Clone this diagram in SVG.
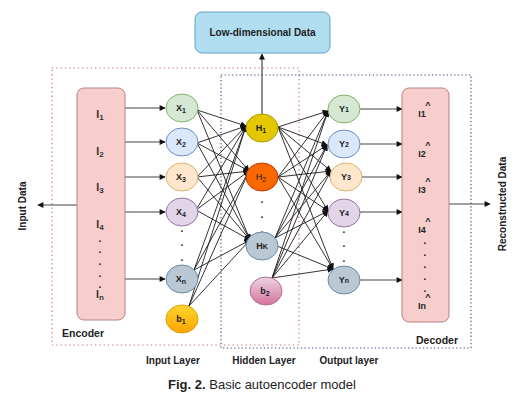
<svg xmlns="http://www.w3.org/2000/svg" width="530" height="409" viewBox="0 0 530 409">
<defs>
<marker id="ah" viewBox="0 0 10 10" refX="9" refY="5" markerWidth="7" markerHeight="6" markerUnits="userSpaceOnUse" orient="auto">
<path d="M0,0 L10,5 L0,10 z" fill="#111"/>
</marker>
<linearGradient id="gb1" x1="0" y1="0" x2="0" y2="1"><stop offset="0" stop-color="#ffd52e"/><stop offset="1" stop-color="#ffa500"/></linearGradient>
<linearGradient id="gb2" x1="0" y1="0" x2="0" y2="1"><stop offset="0" stop-color="#ecd4e4"/><stop offset="1" stop-color="#d5739d"/></linearGradient>
</defs>
<style>
text{font-family:"Liberation Sans",Arial,sans-serif;fill:#222}
.b{font-weight:bold}
.lbl{font-size:9px;font-weight:bold;text-anchor:middle}
.il{font-size:10.5px;font-weight:bold;text-anchor:middle;fill:#333}
.sub{font-size:7px}
.isub{font-size:8px}
.e{stroke:#1c1c1c;stroke-width:0.9;fill:none;marker-end:url(#ah)}
.io{stroke:#444;stroke-width:1.2;fill:none;marker-end:url(#ah)}
.nd{stroke-width:1}
.dot{font-size:10px;text-anchor:middle;font-weight:bold}
</style>
<rect width="530" height="409" fill="#fff"/>

<g id="encoder-frame"><rect x="52" y="68" width="247" height="277" fill="none" stroke="#c9707a" stroke-width="1.2" stroke-dasharray="1.3 3"/></g>
<g id="decoder-frame"><rect x="221" y="75" width="250" height="273" fill="none" stroke="#3d4a80" stroke-width="1.1" stroke-dasharray="1.3 2.4"/></g>

<g id="connectors">
<line class="io" x1="262" y1="114" x2="262" y2="54"/>
<line class="io" x1="77" y1="205" x2="38" y2="205"/>
<line class="io" x1="449" y1="204" x2="490" y2="204"/>
<line class="io" x1="125" y1="108" x2="165" y2="108"/>
<line class="io" x1="125" y1="142" x2="165" y2="142"/>
<line class="io" x1="125" y1="177" x2="165" y2="177"/>
<line class="io" x1="125" y1="212" x2="165" y2="212"/>
<line class="io" x1="125" y1="279" x2="165" y2="279"/>
<line class="io" x1="360" y1="109" x2="402" y2="109"/>
<line class="io" x1="360" y1="144" x2="402" y2="144"/>
<line class="io" x1="362" y1="177" x2="402" y2="177"/>
<line class="io" x1="360" y1="212" x2="402" y2="212"/>
<line class="io" x1="360" y1="280" x2="402" y2="280"/>
<line class="e" x1="197" y1="110" x2="246" y2="126"/>
<line class="e" x1="197" y1="110" x2="249" y2="171"/>
<line class="e" x1="197" y1="110" x2="250" y2="240"/>
<line class="e" x1="197" y1="143" x2="246" y2="126"/>
<line class="e" x1="197" y1="143" x2="249" y2="171"/>
<line class="e" x1="197" y1="143" x2="250" y2="240"/>
<line class="e" x1="197" y1="177" x2="246" y2="126"/>
<line class="e" x1="197" y1="177" x2="249" y2="171"/>
<line class="e" x1="197" y1="177" x2="250" y2="240"/>
<line class="e" x1="196" y1="210" x2="246" y2="126"/>
<line class="e" x1="196" y1="210" x2="249" y2="171"/>
<line class="e" x1="196" y1="210" x2="250" y2="240"/>
<line class="e" x1="194" y1="270" x2="246" y2="126"/>
<line class="e" x1="194" y1="270" x2="249" y2="171"/>
<line class="e" x1="194" y1="270" x2="250" y2="240"/>
<line class="e" x1="189" y1="306" x2="246" y2="126"/>
<line class="e" x1="189" y1="306" x2="249" y2="171"/>
<line class="e" x1="189" y1="306" x2="250" y2="240"/>
<line class="e" x1="278" y1="127" x2="328" y2="111"/>
<line class="e" x1="278" y1="127" x2="327" y2="145"/>
<line class="e" x1="278" y1="127" x2="331" y2="171"/>
<line class="e" x1="278" y1="127" x2="328" y2="211"/>
<line class="e" x1="278" y1="127" x2="333" y2="269"/>
<line class="e" x1="278" y1="177" x2="328" y2="111"/>
<line class="e" x1="278" y1="177" x2="327" y2="145"/>
<line class="e" x1="278" y1="177" x2="331" y2="171"/>
<line class="e" x1="278" y1="177" x2="328" y2="211"/>
<line class="e" x1="278" y1="177" x2="333" y2="269"/>
<line class="e" x1="275" y1="238" x2="328" y2="111"/>
<line class="e" x1="275" y1="238" x2="327" y2="145"/>
<line class="e" x1="275" y1="238" x2="331" y2="171"/>
<line class="e" x1="275" y1="238" x2="328" y2="211"/>
<line class="e" x1="277" y1="246" x2="333" y2="269"/>
<line class="e" x1="272" y1="278" x2="328" y2="111"/>
<line class="e" x1="272" y1="278" x2="327" y2="145"/>
<line class="e" x1="272" y1="278" x2="331" y2="171"/>
<line class="e" x1="272" y1="278" x2="328" y2="211"/>
<line class="e" x1="272" y1="278" x2="333" y2="269"/>
</g>

<g id="low-dim">
<rect x="195" y="12" width="135" height="41" rx="7" fill="#b1ddf0" stroke="#5fa2c2" stroke-width="1"/>
<text x="262.5" y="36" class="b" font-size="10" text-anchor="middle">Low-dimensional Data</text>
</g>

<g id="input-box">
<rect x="77" y="88" width="48" height="232" rx="7" fill="#f8cecc" stroke="#b88080" stroke-width="1"/>
<text class="il" x="100" y="118">I<tspan class="isub" dy="2">1</tspan></text>
<text class="il" x="100" y="155">I<tspan class="isub" dy="2">2</tspan></text>
<text class="il" x="100" y="191">I<tspan class="isub" dy="2">3</tspan></text>
<text class="il" x="100" y="228">I<tspan class="isub" dy="2">4</tspan></text>
<text class="dot" x="100" y="242">.</text>
<text class="dot" x="100" y="253">.</text>
<text class="dot" x="100" y="265">.</text>
<text class="dot" x="100" y="277">.</text>
<text class="dot" x="100" y="288">.</text>
<text class="il" x="100" y="298">I<tspan class="isub" dy="2">n</tspan></text>
</g>

<g id="decoder-box">
<rect x="402" y="88" width="47" height="234" rx="7" fill="#f8cecc" stroke="#b88080" stroke-width="1"/>
<text class="lbl" x="422" y="117">I1</text><text class="lbl" x="428" y="108" font-size="7">^</text>
<text class="lbl" x="422" y="157">I2</text><text class="lbl" x="428" y="148" font-size="7">^</text>
<text class="lbl" x="422" y="193">I3</text><text class="lbl" x="428" y="184" font-size="7">^</text>
<text class="lbl" x="422" y="233">I4</text><text class="lbl" x="428" y="224" font-size="7">^</text>
<text class="dot" x="425" y="244">.</text>
<text class="dot" x="425" y="256">.</text>
<text class="dot" x="425" y="268">.</text>
<text class="dot" x="425" y="280">.</text>
<text class="dot" x="425" y="292">.</text>
<text class="lbl" x="422" y="309">In</text><text class="lbl" x="428" y="300" font-size="7">^</text>
</g>

<g id="x1"><ellipse class="nd" cx="182" cy="108" rx="16" ry="14" fill="#d5e8d4" stroke="#82b366"/><text class="lbl" x="181" y="111">X<tspan class="sub" dy="2">1</tspan></text></g>
<g id="x2"><ellipse class="nd" cx="182" cy="142" rx="16" ry="14" fill="#dae8fc" stroke="#6c8ebf"/><text class="lbl" x="181" y="145">X<tspan class="sub" dy="2">2</tspan></text></g>
<g id="x3"><ellipse class="nd" cx="182" cy="177" rx="16" ry="14" fill="#ffe6cc" stroke="#d7b46a"/><text class="lbl" x="181" y="180">X<tspan class="sub" dy="2">3</tspan></text></g>
<g id="x4"><ellipse class="nd" cx="182" cy="212" rx="16" ry="14" fill="#e1d5e7" stroke="#9673a6"/><text class="lbl" x="181" y="215">X<tspan class="sub" dy="2">4</tspan></text></g>
<g id="x-dots"><text class="dot" x="182" y="232">.</text><text class="dot" x="182" y="246">.</text><text class="dot" x="182" y="261">.</text></g>
<g id="xn"><ellipse class="nd" cx="182" cy="279" rx="16" ry="14" fill="#bac8d3" stroke="#6b8aa8"/><text class="lbl" x="181" y="282">X<tspan class="sub" dy="2">n</tspan></text></g>
<g id="b1"><ellipse class="nd" cx="182" cy="319" rx="16" ry="14" fill="url(#gb1)" stroke="#e0a000"/><text class="lbl" x="181" y="322">b<tspan class="sub" dy="2">1</tspan></text></g>

<g id="h1"><ellipse class="nd" cx="262" cy="128" rx="16" ry="14" fill="#e3c800" stroke="#b09500"/><text class="lbl" x="261" y="131">H<tspan class="sub" dy="2">1</tspan></text></g>
<g id="h2"><ellipse class="nd" cx="262" cy="177" rx="16" ry="14" fill="#fa6800" stroke="#c73500"/><text class="lbl" x="261" y="180" style="font-weight:normal">H<tspan class="sub" dy="2">2</tspan></text></g>
<g id="h-dots"><text class="dot" x="262" y="203">.</text><text class="dot" x="262" y="218">.</text><text class="dot" x="262" y="233">.</text></g>
<g id="hk"><ellipse class="nd" cx="262" cy="246" rx="16" ry="14" fill="#bac8d3" stroke="#6b8aa8"/><text class="lbl" x="262" y="249">H<tspan font-size="7">K</tspan></text></g>
<g id="b2"><ellipse class="nd" cx="266" cy="291" rx="16" ry="14" fill="url(#gb2)" stroke="#b0708f"/><text class="lbl" x="265" y="294">b<tspan class="sub" dy="2">2</tspan></text></g>

<g id="y1"><ellipse class="nd" cx="344" cy="109" rx="16" ry="14" fill="#d5e8d4" stroke="#82b366"/><text class="lbl" x="344" y="112">Y<tspan font-size="7">1</tspan></text></g>
<g id="y2"><ellipse class="nd" cx="344" cy="144" rx="16" ry="14" fill="#dae8fc" stroke="#6c8ebf"/><text class="lbl" x="344" y="147">Y<tspan font-size="7">2</tspan></text></g>
<g id="y3"><ellipse class="nd" cx="346" cy="177" rx="16" ry="14" fill="#ffe6cc" stroke="#d7b46a"/><text class="lbl" x="346" y="180">Y<tspan font-size="7">3</tspan></text></g>
<g id="y4"><ellipse class="nd" cx="344" cy="213" rx="16" ry="14" fill="#e1d5e7" stroke="#9673a6"/><text class="lbl" x="344" y="216">Y<tspan font-size="7">4</tspan></text></g>
<g id="y-dots"><text class="dot" x="344" y="233">.</text><text class="dot" x="344" y="247">.</text><text class="dot" x="344" y="262">.</text></g>
<g id="yn"><ellipse class="nd" cx="344" cy="280" rx="16" ry="14" fill="#bac8d3" stroke="#6b8aa8"/><text class="lbl" x="344" y="283">Y<tspan font-size="7">n</tspan></text></g>

<g id="labels">
<text x="62" y="337" class="b" font-size="10.5">Encoder</text>
<text x="416" y="344" class="b" font-size="10.5">Decoder</text>
<text x="173" y="364" class="b" font-size="10" text-anchor="middle">Input Layer</text>
<text x="264" y="364" class="b" font-size="10" text-anchor="middle">Hidden Layer</text>
<text x="349" y="364" class="b" font-size="10" text-anchor="middle">Output layer</text>
<text transform="translate(26,206) rotate(-90)" class="b" font-size="10" text-anchor="middle">Input Data</text>
<text transform="translate(506,204) rotate(-90)" class="b" font-size="10" text-anchor="middle">Reconstructed Data</text>
<text x="262" y="389" font-size="13" text-anchor="middle"><tspan font-weight="bold">Fig. 2.</tspan> Basic autoencoder model</text>
</g>
</svg>
